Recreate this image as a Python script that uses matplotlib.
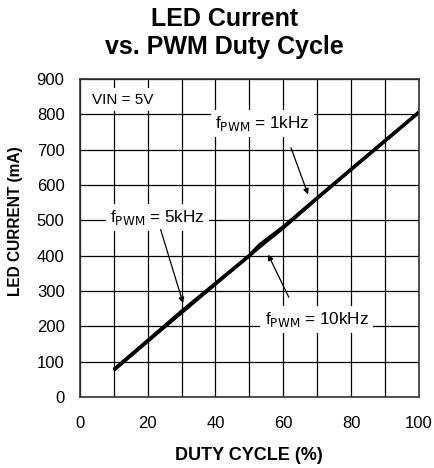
import matplotlib.pyplot as plt

plt.rcParams['font.family'] = ['Liberation Sans', 'DejaVu Sans']

duty = [10, 20, 30, 40, 50, 53, 60, 70, 80, 90, 100]
i_1khz = [76, 158, 240, 321, 401, 431, 482, 564, 645, 726, 807]
i_5khz = [78, 160, 243, 322, 400, 428, 480, 562, 644, 725, 806]
i_10khz = [75, 157, 238, 319, 399, 424, 478, 562, 643, 724, 805]

x_ticks = [0, 20, 40, 60, 80, 100]
y_ticks = list(range(0, 901, 100))

fig = plt.figure(figsize=(4.34, 4.68), dpi=100)
ax = fig.add_axes([0.184, 0.152, 0.781, 0.679])

for y in [i_5khz, i_10khz, i_1khz]:
    ax.plot(duty, y, color='black', lw=2.2, solid_capstyle='butt')

ax.set_xlim(0, 100)
ax.set_ylim(0, 900)
ax.set_xticks(range(0, 101, 10), minor=False)
ax.set_xticklabels(['' if v not in x_ticks else str(v) for v in range(0, 101, 10)])
ax.set_yticks(y_ticks)
ax.grid(True, color='black', lw=0.9)
ax.tick_params(axis='y', length=0, labelsize=12, pad=11)
ax.tick_params(axis='x', length=0, labelsize=12, pad=14)
for s in ax.spines.values():
    s.set_linewidth(1.2)
    s.set_color('#333333')

box = dict(facecolor='white', edgecolor='none', pad=3)
ax.text(3.5, 842, 'VIN = 5V', fontsize=11, va='center', ha='left', bbox=box)
ax.text(40, 775, r'f$_{\rm PWM}$ = 1kHz', fontsize=12.3, va='center', ha='left', bbox=box)
ax.text(9, 509, r'f$_{\rm PWM}$ = 5kHz', fontsize=12.3, va='center', ha='left', bbox=box)
ax.text(54.5, 218, r'f$_{\rm PWM}$ = 10kHz', fontsize=12.3, va='center', ha='left', bbox=box)

arrow = dict(arrowstyle='-|>', color='black', lw=0.9, mutation_scale=8)
ax.annotate('', xy=(67.6, 566), xytext=(62, 713), arrowprops=arrow)
ax.annotate('', xy=(30.7, 258), xytext=(23.6, 481), arrowprops=arrow)
ax.annotate('', xy=(55.2, 410), xytext=(62, 275), arrowprops=arrow)

ax.set_xlabel('DUTY CYCLE (%)', fontsize=13, fontweight='bold')
ax.xaxis.set_label_coords(0.5, -0.158)
ax.set_ylabel('LED CURRENT (mA)', fontsize=11.2, fontweight='bold')
ax.yaxis.set_label_coords(-0.168, 0.553)
fig.suptitle('LED Current\nvs. PWM Duty Cycle', fontsize=18, fontweight='bold',
             x=0.517, y=0.985, linespacing=1.2)

fig.savefig('out.png', dpi=100)
